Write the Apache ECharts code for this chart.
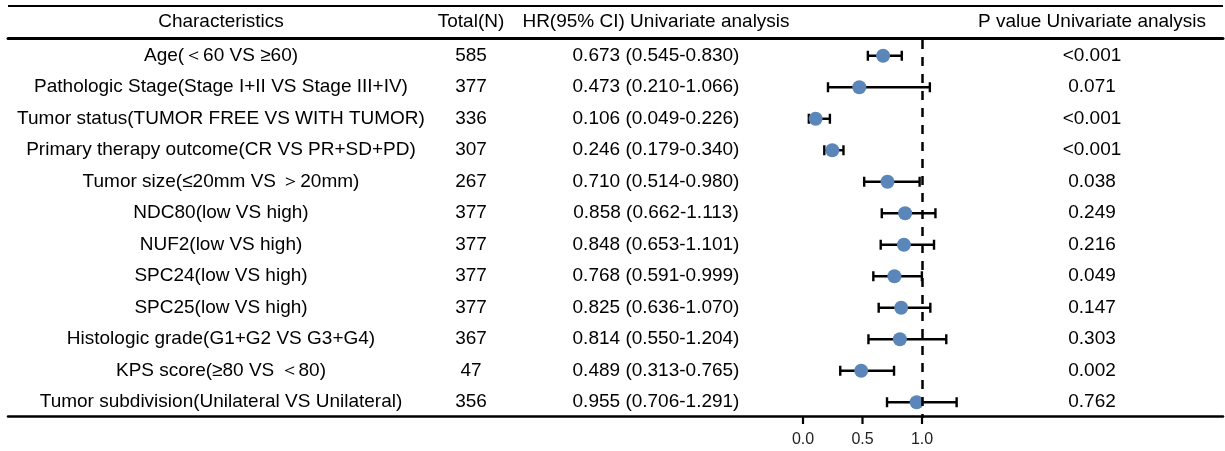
<!DOCTYPE html>
<html>
<head>
<meta charset="utf-8">
<script src="https://cdn.jsdelivr.net/npm/echarts@6/dist/echarts.min.js"></script>
<style>
  html, body { margin: 0; padding: 0; background: #fff; }
  #chart { width: 1225px; height: 451px; }
</style>
</head>
<body>
<div id="chart"></div>
<script>
// ---- data ----
const categories = [
  'Age(＜60 VS ≥60)',
  'Pathologic Stage(Stage I+II VS Stage III+IV)',
  'Tumor status(TUMOR FREE VS WITH TUMOR)',
  'Primary therapy outcome(CR VS PR+SD+PD)',
  'Tumor size(≤20mm VS ＞20mm)',
  'NDC80(low VS high)',
  'NUF2(low VS high)',
  'SPC24(low VS high)',
  'SPC25(low VS high)',
  'Histologic grade(G1+G2 VS G3+G4)',
  'KPS score(≥80 VS ＜80)',
  'Tumor subdivision(Unilateral VS Unilateral)'
];
const totalN = [585, 377, 336, 307, 267, 377, 377, 377, 377, 367, 47, 356];
const hr     = [0.673, 0.473, 0.106, 0.246, 0.710, 0.858, 0.848, 0.768, 0.825, 0.814, 0.489, 0.955];
const lower  = [0.545, 0.210, 0.049, 0.179, 0.514, 0.662, 0.653, 0.591, 0.636, 0.550, 0.313, 0.706];
const upper  = [0.830, 1.066, 0.226, 0.340, 0.980, 1.113, 1.101, 0.999, 1.070, 1.204, 0.765, 1.291];
const pValue = ['<0.001', '0.071', '<0.001', '<0.001', '0.038', '0.249', '0.216', '0.049', '0.147', '0.303', '0.002', '0.762'];
const headers = ['Characteristics', 'Total(N)', 'HR(95% CI) Univariate analysis', 'P value Univariate analysis'];
const xTicks = [0, 0.5, 1.0];
const refValue = 1;

// ---- layout ----
const FONT = "'Liberation Sans', Arial, sans-serif";
const FS = 19;
const gridLeft = 8, gridRight = 2, gridTop = 40, gridHeight = 378;
const gridWidth = 1225 - gridLeft - gridRight;
const zeroPx = 803, unitPx = 119;
const xMin = (gridLeft - zeroPx) / unitPx;
const xMax = xMin + gridWidth / unitPx;
const colCenters = [221, 471, 656, 1092];
const axisLineY = gridTop + gridHeight - 2;
const tickLen = 8;
const hrText = hr.map((v, i) => v.toFixed(3) + ' (' + lower[i].toFixed(3) + '-' + upper[i].toFixed(3) + ')');
const columns = [categories, totalN.map(String), hrText, pValue];

function textAxis(col) {
  return {
    type: 'category',
    data: categories,
    inverse: true,
    position: 'left',
    axisLine: { show: false },
    axisTick: { show: false },
    splitLine: { show: false },
    axisLabel: {
      inside: true,
      interval: 0,
      margin: colCenters[col] - gridLeft,
      align: 'center',
      fontFamily: FONT,
      fontSize: FS,
      color: '#000',
      formatter: (v, i) => columns[col][i]
    }
  };
}

const baseGraphic = [
  { id: 'topRule', type: 'line', shape: { x1: gridLeft, y1: 6, x2: gridLeft + gridWidth, y2: 6 },
    style: { stroke: '#000', lineWidth: 2 } }
].concat(headers.map((h, i) => ({
  id: 'hdr' + i, type: 'text', x: colCenters[i], y: 22,
  style: { text: h, fontFamily: FONT, fontSize: FS, fill: '#000', textAlign: 'center', textVerticalAlign: 'middle' }
})));

const chart = echarts.init(document.getElementById('chart'));
chart.setOption({
  backgroundColor: '#fff',
  animation: false,
  grid: { left: gridLeft, width: gridWidth, top: gridTop, height: gridHeight },
  xAxis: [
    {
      type: 'value', min: xMin, max: xMax, position: 'bottom', offset: -2,
      splitLine: { show: false },
      axisLine: { show: true, lineStyle: { color: '#000', width: 2.5 } },
      axisTick: { show: false },
      axisLabel: { customValues: xTicks, margin: 16, fontFamily: FONT, fontSize: 16, color: '#222',
                   formatter: v => v.toFixed(1) }
    },
    {
      type: 'value', min: xMin, max: xMax, position: 'top', offset: 2,
      splitLine: { show: false },
      axisLine: { show: true, lineStyle: { color: '#000', width: 3 } },
      axisTick: { show: false }, axisLabel: { show: false }
    }
  ],
  yAxis: [0, 1, 2, 3].map(textAxis),
  graphic: baseGraphic,
  series: [
    {
      type: 'custom',
      xAxisIndex: 0, yAxisIndex: 0,
      data: categories.map((c, i) => [lower[i], i, upper[i]]),
      encode: { x: [0, 2], y: 1 },
      renderItem: function (params, api) {
        const y = api.value(1);
        const p1 = api.coord([api.value(0), y]);
        const p2 = api.coord([api.value(2), y]);
        const h = 5;
        const st = { stroke: '#000', lineWidth: 2.4 };
        return {
          type: 'group',
          children: [
            { type: 'line', shape: { x1: p1[0], y1: p1[1], x2: p2[0], y2: p2[1] }, style: st },
            { type: 'line', shape: { x1: p1[0], y1: p1[1] - h, x2: p1[0], y2: p1[1] + h }, style: st },
            { type: 'line', shape: { x1: p2[0], y1: p2[1] - h, x2: p2[0], y2: p2[1] + h }, style: st }
          ]
        };
      },
      markLine: {
        silent: true, symbol: 'none', label: { show: false },
        lineStyle: { color: '#000', width: 2.5, type: [9, 8] },
        data: [{ xAxis: refValue }]
      },
      z: 2
    },
    {
      type: 'scatter',
      xAxisIndex: 0, yAxisIndex: 0,
      data: hr.map((v, i) => [v, i]),
      symbolSize: 14,
      itemStyle: { color: '#5a86ba', opacity: 1 },
      z: 3
    }
  ]
});

// tick marks under the axis line, placed with the axis's own scale
const tickGraphic = xTicks.map((v, i) => {
  const x = chart.convertToPixel({ xAxisIndex: 0 }, v);
  return {
    id: 'tick' + i, type: 'line', z: 10,
    shape: { x1: x, y1: axisLineY, x2: x, y2: axisLineY + tickLen },
    style: { stroke: '#000', lineWidth: 2.2 }
  };
});
chart.setOption({ graphic: baseGraphic.concat(tickGraphic) });
</script>
</body>
</html>
